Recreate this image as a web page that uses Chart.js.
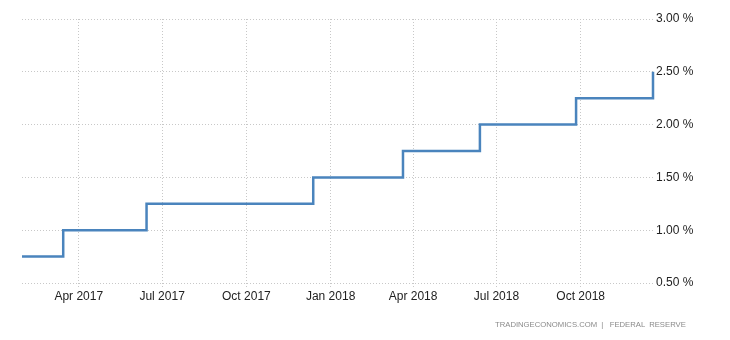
<!DOCTYPE html>
<html>
<head>
<meta charset="utf-8">
<script src="https://cdn.jsdelivr.net/npm/chart.js@4"></script>
<style>
  html, body { margin: 0; padding: 0; background: #fff; }
  #wrap { position: relative; width: 730px; height: 340px; }
  #source {
    position: absolute; left: 495px; top: 320px;
    font: 7.7px "Liberation Sans", Arial, sans-serif; color: #8a8a8a;
    white-space: pre;
  }
</style>
</head>
<body>
<div id="wrap">
  <canvas id="rateChart" width="730" height="340"></canvas>
  <div id="source">TRADINGECONOMICS.COM  |   FEDERAL  RESERVE</div>
</div>
<script>
// Fed funds rate decisions (value applies up to the next date)
const rateDates = ['2017-01-29', '2017-03-15', '2017-06-14', '2017-12-13', '2018-03-21', '2018-06-13', '2018-09-26', '2018-12-19'];
const rateValues = [0.75, 1.00, 1.25, 1.50, 1.75, 2.00, 2.25, 2.50];

// x axis ticks
const tickDates = ['2017-04-01', '2017-07-01', '2017-10-01', '2018-01-01', '2018-04-01', '2018-07-01', '2018-10-01'];
const tickLabels = ['Apr 2017', 'Jul 2017', 'Oct 2017', 'Jan 2018', 'Apr 2018', 'Jul 2018', 'Oct 2018'];

// y axis ticks
const yTicks = [0.5, 1.0, 1.5, 2.0, 2.5, 3.0];

// days since 2017-01-01
function dayNum(s) {
    const p = s.split('-').map(Number);
    return Math.round((Date.UTC(p[0], p[1] - 1, p[2]) - Date.UTC(2017, 0, 1)) / 86400000);
}

const tickDays = tickDates.map(dayNum);
const points = rateDates.map((d, i) => ({ x: dayNum(d), y: rateValues[i] }));

const font = { family: '"Liberation Sans", Arial, sans-serif', size: 12 };
const gridColor = '#c8c8c8';

const ctx = document.getElementById('rateChart').getContext('2d');
new Chart(ctx, {
    type: 'line',
    data: {
        datasets: [{
            data: points,
            stepped: 'before',
            borderColor: '#4a84bd',
            borderWidth: 2.5,
            pointRadius: 0,
            fill: false,
            clip: false
        }]
    },
    options: {
        responsive: false,
        animation: false,
        layout: { padding: { left: 22, top: 19, right: 0, bottom: 0 } },
        plugins: { legend: { display: false }, tooltip: { enabled: false } },
        scales: {
            x: {
                type: 'linear',
                min: dayNum(rateDates[0]),
                max: dayNum(rateDates[rateDates.length - 1]),
                afterBuildTicks: (scale) => { scale.ticks = tickDays.map(v => ({ value: v })); },
                afterFit: (scale) => { scale.height = 57; },
                ticks: {
                    autoSkip: false,
                    maxRotation: 0,
                    padding: 1,
                    color: '#222',
                    font: font,
                    callback: (v) => tickLabels[tickDays.indexOf(v)]
                },
                grid: { color: gridColor, tickLength: 5, tickBorderDash: [1, 2], tickColor: gridColor },
                border: { display: false, dash: [1, 2] }
            },
            y: {
                position: 'right',
                min: 0.5,
                max: 3.0,
                afterBuildTicks: (scale) => { scale.ticks = yTicks.map(v => ({ value: v })); },
                afterFit: (scale) => { scale.width = 77; },
                ticks: {
                    padding: 3,
                    color: '#222',
                    font: font,
                    callback: (v) => v.toFixed(2) + ' %'
                },
                grid: { color: gridColor, drawTicks: false },
                border: { display: false, dash: [1, 2] }
            }
        }
    }
});
</script>
</body>
</html>
